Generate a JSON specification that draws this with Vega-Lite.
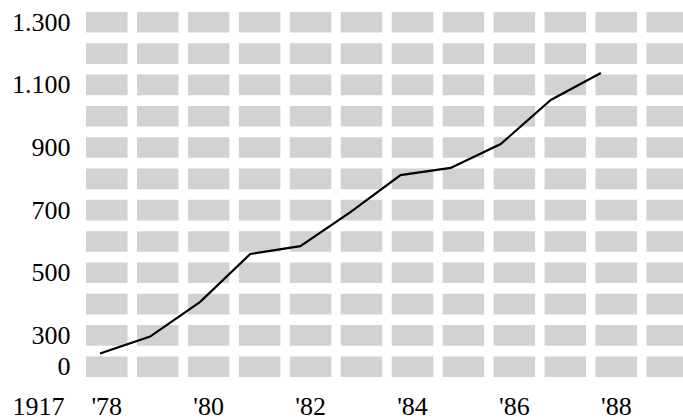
{
  "$schema": "https://vega.github.io/schema/vega-lite/v6.json",
  "width": 597,
  "height": 365,
  "autosize": {"type": "none"},
  "padding": {"left": 86, "top": 12, "right": 0, "bottom": 42},
  "background": "white",
  "config": {"view": {"stroke": null}},
  "datasets": {
    "cells": [
      {"c":78,"r":1},{"c":78,"r":2},{"c":78,"r":3},{"c":78,"r":4},{"c":78,"r":5},{"c":78,"r":6},{"c":78,"r":7},{"c":78,"r":8},{"c":78,"r":9},{"c":78,"r":10},{"c":78,"r":11},{"c":78,"r":12},
      {"c":79,"r":1},{"c":79,"r":2},{"c":79,"r":3},{"c":79,"r":4},{"c":79,"r":5},{"c":79,"r":6},{"c":79,"r":7},{"c":79,"r":8},{"c":79,"r":9},{"c":79,"r":10},{"c":79,"r":11},{"c":79,"r":12},
      {"c":80,"r":1},{"c":80,"r":2},{"c":80,"r":3},{"c":80,"r":4},{"c":80,"r":5},{"c":80,"r":6},{"c":80,"r":7},{"c":80,"r":8},{"c":80,"r":9},{"c":80,"r":10},{"c":80,"r":11},{"c":80,"r":12},
      {"c":81,"r":1},{"c":81,"r":2},{"c":81,"r":3},{"c":81,"r":4},{"c":81,"r":5},{"c":81,"r":6},{"c":81,"r":7},{"c":81,"r":8},{"c":81,"r":9},{"c":81,"r":10},{"c":81,"r":11},{"c":81,"r":12},
      {"c":82,"r":1},{"c":82,"r":2},{"c":82,"r":3},{"c":82,"r":4},{"c":82,"r":5},{"c":82,"r":6},{"c":82,"r":7},{"c":82,"r":8},{"c":82,"r":9},{"c":82,"r":10},{"c":82,"r":11},{"c":82,"r":12},
      {"c":83,"r":1},{"c":83,"r":2},{"c":83,"r":3},{"c":83,"r":4},{"c":83,"r":5},{"c":83,"r":6},{"c":83,"r":7},{"c":83,"r":8},{"c":83,"r":9},{"c":83,"r":10},{"c":83,"r":11},{"c":83,"r":12},
      {"c":84,"r":1},{"c":84,"r":2},{"c":84,"r":3},{"c":84,"r":4},{"c":84,"r":5},{"c":84,"r":6},{"c":84,"r":7},{"c":84,"r":8},{"c":84,"r":9},{"c":84,"r":10},{"c":84,"r":11},{"c":84,"r":12},
      {"c":85,"r":1},{"c":85,"r":2},{"c":85,"r":3},{"c":85,"r":4},{"c":85,"r":5},{"c":85,"r":6},{"c":85,"r":7},{"c":85,"r":8},{"c":85,"r":9},{"c":85,"r":10},{"c":85,"r":11},{"c":85,"r":12},
      {"c":86,"r":1},{"c":86,"r":2},{"c":86,"r":3},{"c":86,"r":4},{"c":86,"r":5},{"c":86,"r":6},{"c":86,"r":7},{"c":86,"r":8},{"c":86,"r":9},{"c":86,"r":10},{"c":86,"r":11},{"c":86,"r":12},
      {"c":87,"r":1},{"c":87,"r":2},{"c":87,"r":3},{"c":87,"r":4},{"c":87,"r":5},{"c":87,"r":6},{"c":87,"r":7},{"c":87,"r":8},{"c":87,"r":9},{"c":87,"r":10},{"c":87,"r":11},{"c":87,"r":12},
      {"c":88,"r":1},{"c":88,"r":2},{"c":88,"r":3},{"c":88,"r":4},{"c":88,"r":5},{"c":88,"r":6},{"c":88,"r":7},{"c":88,"r":8},{"c":88,"r":9},{"c":88,"r":10},{"c":88,"r":11},{"c":88,"r":12},
      {"c":89,"r":1},{"c":89,"r":2},{"c":89,"r":3},{"c":89,"r":4},{"c":89,"r":5},{"c":89,"r":6},{"c":89,"r":7},{"c":89,"r":8},{"c":89,"r":9},{"c":89,"r":10},{"c":89,"r":11},{"c":89,"r":12}
    ],
    "series": [
      {"year":1978,"value":127},
      {"year":1979,"value":289},
      {"year":1980,"value":407},
      {"year":1981,"value":560},
      {"year":1982,"value":585},
      {"year":1983,"value":694},
      {"year":1984,"value":812},
      {"year":1985,"value":835},
      {"year":1986,"value":911},
      {"year":1987,"value":1052},
      {"year":1988,"value":1138}
    ]
  },
  "layer": [
    {
      "data": {"name": "cells"},
      "mark": {"type": "rect", "color": "#d2d2d2", "clip": true},
      "encoding": {
        "x": {
          "field": "c", "type": "ordinal",
          "scale": {"range": [0, 602], "paddingInner": 0.185, "paddingOuter": 0},
          "axis": {
            "title": "1917",
            "titleFont": "Liberation Serif", "titleFontSize": 26, "titleFontWeight": "normal",
            "titleColor": "#000000", "titleAnchor": "start", "titleAlign": "left",
            "titleBaseline": "top", "titleX": -74, "titleY": 16,
            "labelExpr": "datum.value % 2 == 0 && datum.value < 89 ? \"'\" + datum.value : ''",
            "labelFont": "Liberation Serif", "labelFontSize": 26, "labelColor": "#000000",
            "labelPadding": 16, "labelAngle": 0, "labelBaseline": "top",
            "ticks": false, "domain": false, "grid": false
          }
        },
        "y": {
          "field": "r", "type": "ordinal",
          "scale": {"paddingInner": 0.343, "paddingOuter": 0},
          "axis": null
        }
      }
    },
    {
      "data": {"name": "series"},
      "mark": {"type": "line", "color": "#000000", "strokeWidth": 2.2},
      "encoding": {
        "x": {
          "field": "year", "type": "quantitative",
          "scale": {"domain": [1977.72, 1989.64], "nice": false, "zero": false},
          "axis": null
        },
        "y": {
          "field": "value", "type": "quantitative",
          "scale": {"domain": [0, 300, 1300], "range": [354.7, 323.4, 10.3], "nice": false, "zero": false},
          "axis": {
            "values": [0, 300, 500, 700, 900, 1100, 1300],
            "labelExpr": "replace(format(datum.value, ','), ',', '.')",
            "labelFont": "Liberation Serif", "labelFontSize": 26, "labelColor": "#000000",
            "labelPadding": 16, "labelBaseline": "middle",
            "ticks": false, "domain": false, "grid": false, "title": null
          }
        }
      }
    }
  ],
  "resolve": {"scale": {"x": "independent", "y": "independent"}}
}
